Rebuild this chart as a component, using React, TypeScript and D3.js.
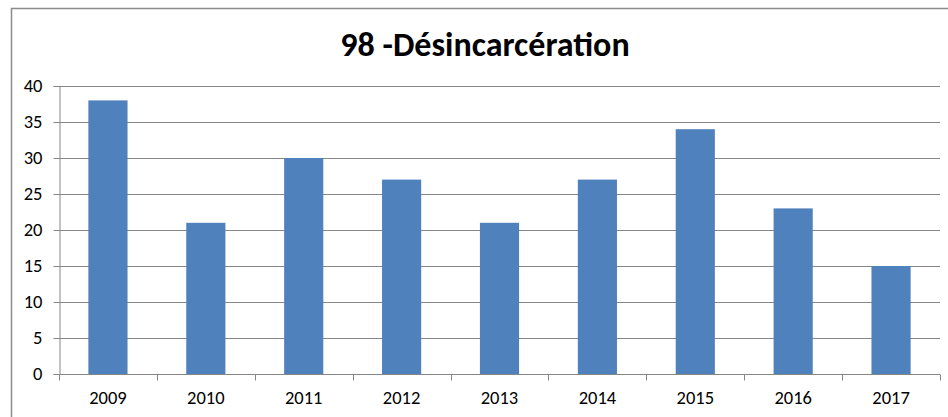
import React, { useRef, useEffect } from 'react';
import * as d3 from 'd3';

const years = ['2009', '2010', '2011', '2012', '2013', '2014', '2015', '2016', '2017'];
const counts = [38, 21, 30, 27, 21, 27, 34, 23, 15];
const yTicks = [0, 5, 10, 15, 20, 25, 30, 35, 40];
const title = '98 -Désincarcération';

const App = () => {
    const svgRef = useRef<SVGSVGElement>(null);

    useEffect(() => {
        const svg = d3.select(svgRef.current);
        svg.selectAll('*').remove();

        const width = 948;
        const height = 417;
        const margin = { top: 86, right: 8, bottom: 43, left: 59 };
        const font = 'Carlito, Lato, "Liberation Sans", sans-serif';

        // outer frame (left + top only visible)
        svg.append('path')
            .attr('d', `M11.5,${height} V8.5 H${width}`)
            .attr('fill', 'none')
            .attr('stroke', '#8c8c8c')
            .attr('stroke-width', 1.5);

        svg.append('text')
            .attr('x', 485)
            .attr('y', 56)
            .attr('text-anchor', 'middle')
            .attr('font-family', font)
            .attr('font-weight', 'bold')
            .attr('font-size', 34)
            .attr('fill', '#000')
            .text(title);

        const x = d3.scaleBand()
            .domain(years)
            .range([margin.left, width - margin.right])
            .paddingInner(0.6)
            .paddingOuter(0.3);

        const band = d3.scaleBand()
            .domain(years)
            .range([margin.left, width - margin.right]);

        const y = d3.scaleLinear()
            .domain([0, 40])
            .range([height - margin.bottom, margin.top]);

        // gridlines
        svg.append('g')
            .selectAll('line')
            .data(yTicks.filter(d => d > 0))
            .join('line')
            .attr('x1', margin.left)
            .attr('x2', width - margin.right)
            .attr('y1', d => Math.round(y(d)) + 0.5)
            .attr('y2', d => Math.round(y(d)) + 0.5)
            .attr('stroke', '#868686')
            .attr('stroke-width', 1);

        svg.append('g')
            .selectAll('rect')
            .data(counts)
            .join('rect')
            .attr('x', (d, i) => x(years[i]))
            .attr('y', d => y(d))
            .attr('width', x.bandwidth())
            .attr('height', d => y(0) - y(d))
            .attr('fill', '#4f81bd');

        // y axis
        const yAxis = svg.append('g')
            .attr('transform', `translate(${margin.left + 0.5},0)`)
            .call(d3.axisLeft(y).tickValues(yTicks).tickSize(6).tickPadding(11));
        yAxis.selectAll('path, line').attr('stroke', '#868686');
        yAxis.selectAll('text')
            .attr('font-family', font)
            .attr('font-size', 18.5)
            .attr('fill', '#000');

        // x axis with ticks at band boundaries
        const xAxis = svg.append('g')
            .attr('transform', `translate(0,${Math.round(y(0)) + 0.5})`);
        xAxis.append('line')
            .attr('x1', margin.left)
            .attr('x2', width - margin.right)
            .attr('stroke', '#868686');
        xAxis.selectAll('line.tick')
            .data(years.concat(['end']))
            .join('line')
            .attr('class', 'tick')
            .attr('x1', (d, i) => Math.round(margin.left + i * band.bandwidth()) + 0.5)
            .attr('x2', (d, i) => Math.round(margin.left + i * band.bandwidth()) + 0.5)
            .attr('y1', 0)
            .attr('y2', 6)
            .attr('stroke', '#868686');
        xAxis.selectAll('text')
            .data(years)
            .join('text')
            .attr('x', d => (band(d) as number) + band.bandwidth() / 2)
            .attr('y', 29)
            .attr('text-anchor', 'middle')
            .attr('font-family', font)
            .attr('font-size', 18.5)
            .attr('fill', '#000')
            .text(d => d);
    }, []);

    return (
        <svg ref={svgRef} width={948} height={417}
            style={{ position: 'absolute', left: 0, top: 0, background: '#fff' }} />
    );
};

export default App;
